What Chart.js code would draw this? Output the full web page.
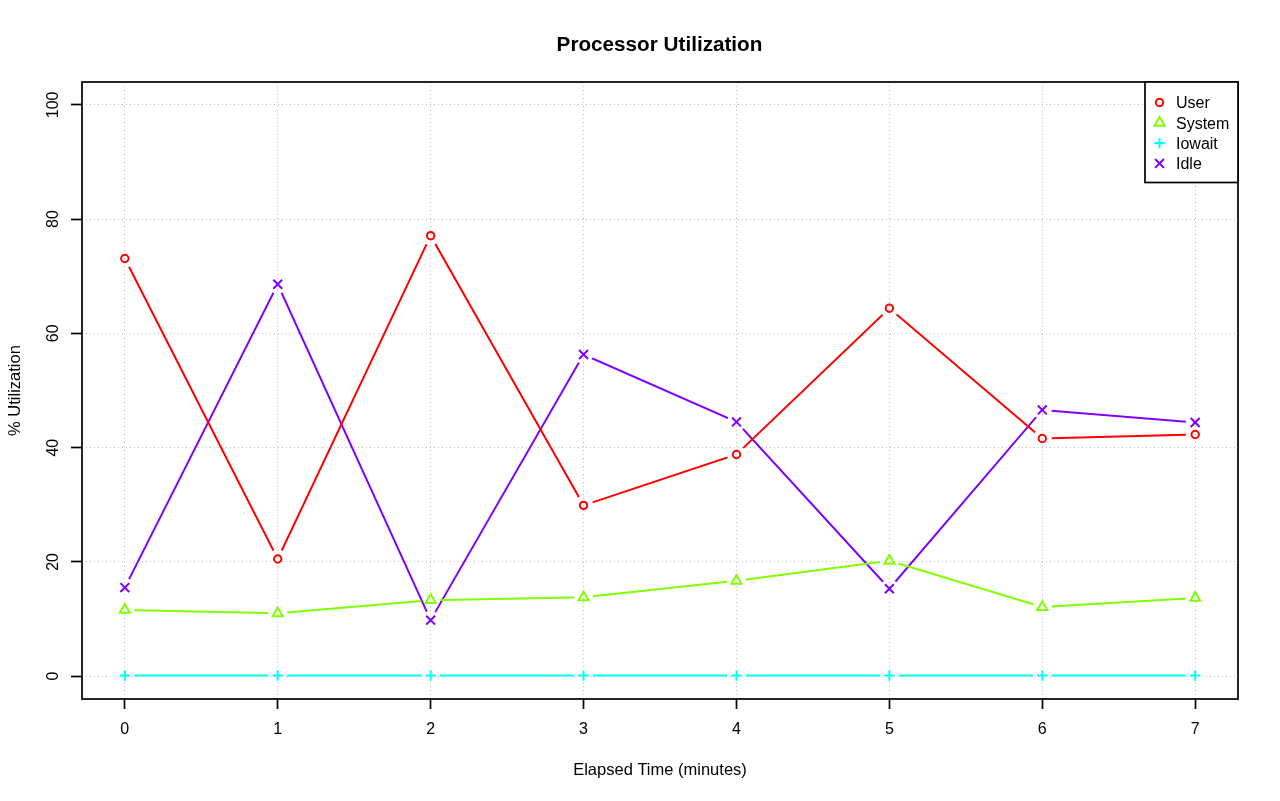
<!DOCTYPE html>
<html>
<head>
<meta charset="utf-8">
<title>Processor Utilization</title>
<script src="https://cdn.jsdelivr.net/npm/chart.js@4.4.1/dist/chart.umd.min.js"></script>
<style>
  html, body { margin: 0; padding: 0; background: #fff; }
  #wrap { width: 1280px; height: 801px; }
</style>
</head>
<body>
<div id="wrap"><canvas id="cpuChart" width="1280" height="801"></canvas></div>
<script>
// ===== data =====
const elapsed = [0, 1, 2, 3, 4, 5, 6, 7];
const userPct = [73.1, 20.5, 77.1, 29.9, 38.8, 64.4, 41.6, 42.3];
const systemPct = [11.6, 11.0, 13.3, 13.8, 16.7, 20.2, 12.1, 13.7];
const iowaitPct = [0.1, 0.1, 0.1, 0.1, 0.1, 0.1, 0.1, 0.1];
const idlePct = [15.5, 68.6, 9.8, 56.3, 44.5, 15.3, 46.6, 44.4];
const yTicks = [0, 20, 40, 60, 80, 100];

const FONT = '"Liberation Sans", Arial, Helvetica, sans-serif';
const GRID = '#bdbdbd';
const DOTS = [1, 3];

const series = [
    { label: 'User', values: userPct, color: '#ff0000', style: 'circle', radius: 3.7 },
    { label: 'System', values: systemPct, color: '#80ff00', style: 'triangle', radius: 5.8 },
    { label: 'Iowait', values: iowaitPct, color: '#00ffff', style: 'cross', radius: 5.2 },
    { label: 'Idle', values: idlePct, color: '#8000ff', style: 'crossRot', radius: 6.3 }
];

function toPoints(values) { return elapsed.map((t, i) => ({ x: t, y: values[i] })); }

// line part (with gaps round each point, like R type="b") + marker part
const datasets = [];
series.forEach(s => {
    datasets.push({ label: s.label, data: toPoints(s.values), borderColor: s.color, borderWidth: 2,
        pointRadius: 0, pointHoverRadius: 0, tension: 0, fill: false, gap: 9.5 });
});
series.forEach(s => {
    datasets.push({ label: s.label + ' pts', data: toPoints(s.values), showLine: false, pointStyle: s.style,
        pointRadius: s.radius, pointHoverRadius: s.radius, pointBorderColor: s.color,
        pointBackgroundColor: 'rgba(0,0,0,0)', pointBorderWidth: 2 });
});

// punch holes into the connecting lines around each data point
const gapPlugin = {
    id: 'gapPlugin',
    beforeDatasetDraw(chart, args) {
        const ds = chart.data.datasets[args.index];
        if (!ds.gap) return;
        const ctx = chart.ctx;
        ctx.save();
        ctx.beginPath();
        ctx.rect(0, 0, chart.width, chart.height);
        args.meta.data.forEach(pt => {
            ctx.moveTo(pt.x + ds.gap, pt.y);
            ctx.arc(pt.x, pt.y, ds.gap, 0, Math.PI * 2);
        });
        ctx.clip('evenodd');
    },
    afterDatasetDraw(chart, args) {
        const ds = chart.data.datasets[args.index];
        if (ds.gap) chart.ctx.restore();
    }
};

// frame, title, rotated y labels and the boxed legend
const decorPlugin = {
    id: 'decorPlugin',
    afterDraw(chart) {
        const ctx = chart.ctx;
        const a = chart.chartArea;
        ctx.save();
        ctx.strokeStyle = '#000';
        ctx.lineWidth = 1.7;
        ctx.strokeRect(a.left, a.top, a.right - a.left, a.bottom - a.top);

        ctx.fillStyle = '#000';
        ctx.font = 'bold 20.7px ' + FONT;
        ctx.textAlign = 'center';
        ctx.textBaseline = 'alphabetic';
        ctx.fillText('Processor Utilization', 659.5, 51);

        // y tick labels, vertical like R's las=0
        const ys = chart.scales.y;
        ctx.font = '16px ' + FONT;
        ys.ticks.forEach(t => {
            const py = ys.getPixelForValue(t.value);
            ctx.save();
            ctx.translate(58, py);
            ctx.rotate(-Math.PI / 2);
            ctx.fillText(String(t.value), 0, 0);
            ctx.restore();
        });

        // legend
        const lx = 1145, ly = a.top, lw = a.right - lx, lh = 100.5;
        ctx.fillStyle = '#fff';
        ctx.fillRect(lx, ly, lw, lh);
        ctx.strokeRect(lx, ly, lw, lh);
        ctx.textAlign = 'left';
        series.forEach((s, i) => {
            const cy = 102.5 + i * 20.3;
            ctx.strokeStyle = s.color;
            ctx.fillStyle = 'rgba(0,0,0,0)';
            ctx.lineWidth = 2;
            if (Chart.helpers && Chart.helpers.drawPoint) {
                Chart.helpers.drawPoint(ctx, { pointStyle: s.style, radius: s.radius, borderWidth: 2, rotation: 0 }, 1159.5, cy);
            } else {
                ctx.beginPath(); ctx.arc(1159.5, cy, 3.7, 0, Math.PI * 2); ctx.stroke();
            }
            ctx.fillStyle = '#000';
            ctx.fillText(s.label, 1176, cy + 5.7);
        });
        ctx.restore();
    }
};

const axisGrid = (len) => ({
    color: GRID, lineWidth: 1, borderDash: DOTS, drawTicks: true, tickLength: len,
    tickColor: '#000', tickWidth: 1.7, tickBorderDash: []
});

new Chart(document.getElementById('cpuChart').getContext('2d'), {
    type: 'line',
    data: { datasets: datasets },
    options: {
        responsive: false, animation: false, devicePixelRatio: 1,
        layout: { padding: { top: 82, right: 42, left: 0, bottom: 0 } },
        plugins: { legend: { display: false }, title: { display: false }, tooltip: { enabled: false } },
        scales: {
            x: {
                type: 'linear', min: -0.28, max: 7.28,
                ticks: { stepSize: 1, includeBounds: false, color: '#000', padding: 11, font: { family: FONT, size: 16 } },
                grid: axisGrid(10),
                border: { display: false, dash: DOTS },
                title: { display: true, text: 'Elapsed Time (minutes)', color: '#000', font: { family: FONT, size: 16.5 }, padding: { top: 0, bottom: 21 } },
                afterFit: s => { s.height = 102; }
            },
            y: {
                type: 'linear', min: -4, max: 104,
                afterBuildTicks: s => { s.ticks = yTicks.map(v => ({ value: v })); },
                ticks: { display: false },
                grid: axisGrid(11),
                border: { display: false, dash: DOTS },
                title: { display: true, text: '% Utilization', color: '#000', font: { family: FONT, size: 16.5 }, padding: { top: 6, bottom: 0 } },
                afterFit: s => { s.width = 82; }
            }
        }
    },
    plugins: [gapPlugin, decorPlugin]
});
</script>
</body>
</html>
